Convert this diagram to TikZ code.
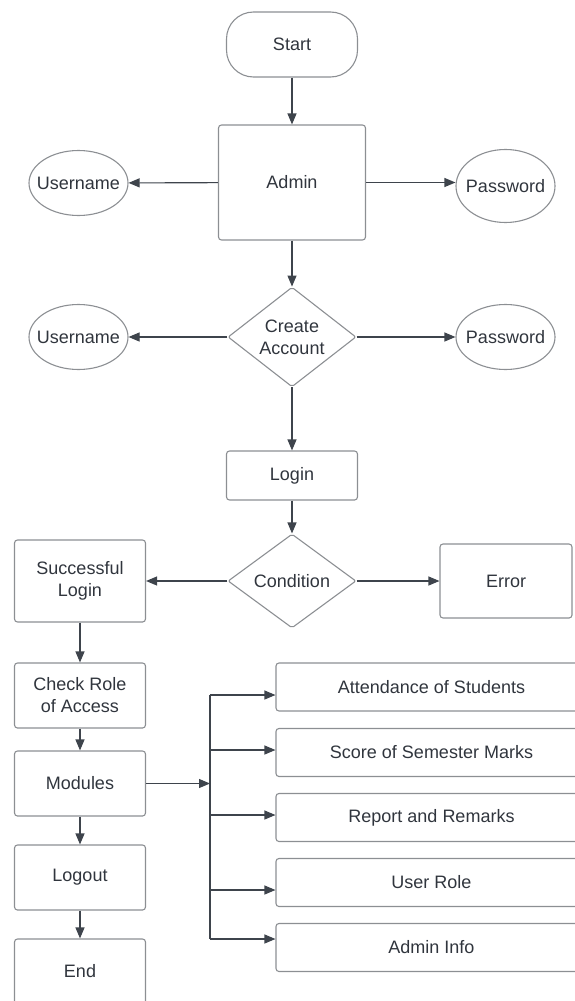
\documentclass[tikz,border=0pt]{standalone}
\usepackage{fontspec}
\setmainfont{Liberation Sans}
\usepackage{tikz}
\usetikzlibrary{shapes.geometric, arrows.meta, positioning}

\definecolor{lineGrey}{HTML}{3E444C}
\definecolor{boxGrey}{HTML}{8C8F93}
\definecolor{textGrey}{HTML}{30353D}

\begin{document}
\begin{tikzpicture}[x=1pt, y=-1pt,
        every node/.style={font=\fontsize{18}{22}\selectfont, text=textGrey, inner sep=0pt},
        box/.style={rectangle, draw=boxGrey, line width=1.1pt, rounded corners=3pt, align=center, minimum width=131pt},
        modbox/.style={box, minimum width=311pt, minimum height=48pt},
        bubble/.style={ellipse, draw=boxGrey, line width=1.1pt, inner xsep=-12pt, minimum width=99pt, minimum height=65pt},
        choice/.style={diamond, draw=boxGrey, line width=1.1pt, rounded corners=2pt, align=center, minimum width=128pt, minimum height=94pt},
        flow/.style={draw=lineGrey, line width=1.1pt, -{Triangle[length=11pt, width=9pt]}},
        link/.style={draw=lineGrey, line width=1.1pt}]
    \useasboundingbox (0,0) rectangle (575,1001);

    \node[box, rounded corners=27pt, minimum height=65pt] (start) at (292,44.5) {Start};
    \node[box, minimum width=147pt, minimum height=115pt] (admin) at (292,182.5) {Admin};
    \node[bubble] (user1) at (78.5,183) {Username};
    \node[bubble, minimum height=73pt] (pass1) at (505.5,186) {Password};

    \node[choice] (create) at (292,337) {Create\\Account};
    \node[bubble] (user2) at (78.5,337) {Username};
    \node[bubble] (pass2) at (505.5,337) {Password};

    \node[box, minimum height=49pt] (login) at (292,475.5) {Login};
    \node[choice] (cond) at (292,581) {Condition};
    \node[box, minimum height=82pt] (success) at (80,581) {Successful\\Login};
    \node[box, minimum width=132pt, minimum height=74pt] (error) at (506,581) {Error};

    \node[box, minimum height=65pt] (check) at (80,695.5) {Check Role\\of Access};
    \node[box, minimum height=65pt] (modules) at (80,783.5) {Modules};
    \node[box, minimum height=65pt] (logout) at (80,877.5) {Logout};
    \node[box, minimum height=65pt] (stop) at (80,971.5) {End};

    \node[modbox] (attend) at (431.5,687) {Attendance of Students};
    \node[modbox] (score) at (431.5,752.5) {Score of Semester Marks};
    \node[modbox] (report) at (431.5,817.5) {Report and Remarks};
    \node[modbox] (role) at (431.5,882.5) {User Role};
    \node[modbox] (info) at (431.5,947.5) {Admin Info};

    \draw[flow] (start) -- (admin);
    \draw[flow] (admin) -- (user1);
    \draw[flow] (admin.east) -- (admin.east -| pass1.west);
    \draw[flow] (admin) -- (create);
    \draw[flow] (create) -- (user2);
    \draw[flow] (create) -- (pass2);
    \draw[flow] (create) -- (login);
    \draw[flow] (login) -- (cond);
    \draw[flow] (cond) -- (success);
    \draw[flow] (cond) -- (error);
    \draw[flow] (success) -- (check);
    \draw[flow] (check) -- (modules);
    \draw[flow] (modules) -- (logout);
    \draw[flow] (logout) -- (stop);

    \coordinate (bus) at (210,783.5);
    \coordinate (b1) at (210,695);
    \coordinate (b2) at (210,750);
    \coordinate (b3) at (210,815);
    \coordinate (b4) at (210,890);
    \coordinate (b5) at (210,939);
    \draw[flow] (modules) -- (bus);
    \draw[link] (b1) -- (b5);
    \draw[flow] (b1) -- (b1 -| attend.west);
    \draw[flow] (b2) -- (b2 -| score.west);
    \draw[flow] (b3) -- (b3 -| report.west);
    \draw[flow] (b4) -- (b4 -| role.west);
    \draw[flow] (b5) -- (b5 -| info.west);
\end{tikzpicture}
\end{document}
